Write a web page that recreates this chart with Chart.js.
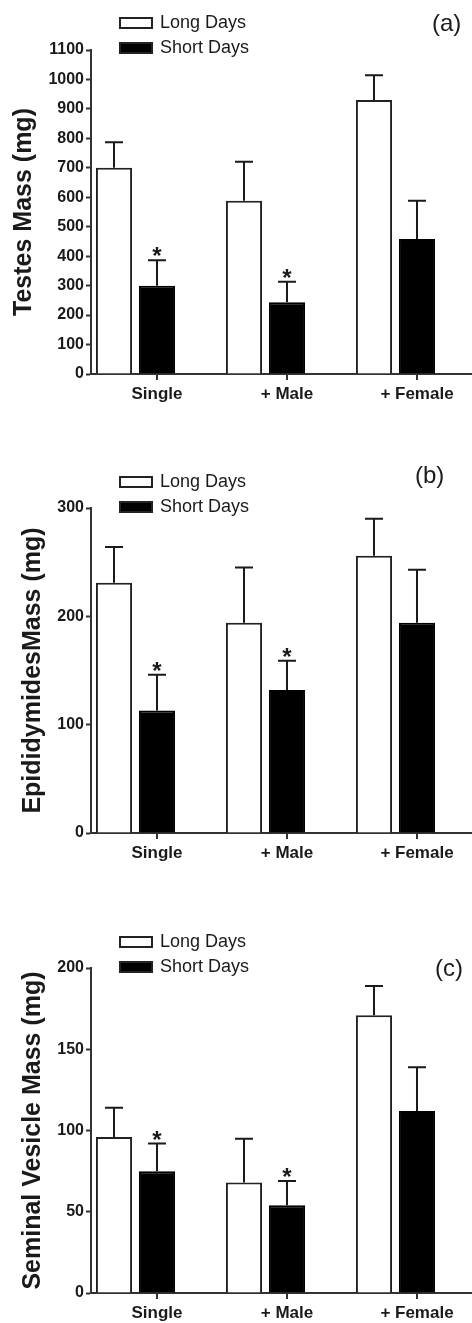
<!DOCTYPE html>
<html>
<head>
<meta charset="utf-8">
<script src="https://cdn.jsdelivr.net/npm/chart.js@4.4.1/dist/chart.umd.min.js"></script>
<style>
  html, body { margin: 0; padding: 0; background: #fff; }
  body {
    width: 472px;
    height: 1323px;
    position: relative;
    overflow: hidden;
    font-family: "Liberation Sans", Arial, sans-serif;
    color: #1a1a1a;
  }
  .panel { position: absolute; left: 0; }
  .legend { position: absolute; left: 119px; font-size: 18px; }
  .legend div { display: flex; align-items: center; height: 25px; }
  .swatch { width: 30px; height: 8px; border: 2px solid #222; margin-right: 7px; }
  .swatch.long { background: #fff; }
  .swatch.short { background: #000; }
  .letter { position: absolute; font-size: 24px; line-height: 28px; }
</style>
</head>
<body>

<canvas class="panel" id="testes" width="472" height="440" style="top:0"></canvas>
<canvas class="panel" id="epididymides" width="472" height="440" style="top:440px"></canvas>
<canvas class="panel" id="vesicle" width="472" height="443" style="top:880px"></canvas>

<div class="legend" style="top:10px">
  <div><span class="swatch long"></span>Long Days</div>
  <div><span class="swatch short"></span>Short Days</div>
</div>
<div class="letter" style="left:432px; top:9px">(a)</div>

<div class="legend" style="top:469px">
  <div><span class="swatch long"></span>Long Days</div>
  <div><span class="swatch short"></span>Short Days</div>
</div>
<div class="letter" style="left:415px; top:461px">(b)</div>

<div class="legend" style="top:929px">
  <div><span class="swatch long"></span>Long Days</div>
  <div><span class="swatch short"></span>Short Days</div>
</div>
<div class="letter" style="left:435px; top:954px">(c)</div>

<script>
const groups = ["Single", "+ Male", "+ Female"];

const testesLong = [700, 588, 930];
const testesLongErr = [87, 133, 84];
const testesShort = [300, 244, 458];
const testesShortErr = [86, 69, 130];

const epiLong = [231, 194, 256];
const epiLongErr = [33, 51, 34];
const epiShort = [113, 132, 194];
const epiShortErr = [33, 27, 49];

const vesicleLong = [96, 68, 171];
const vesicleLongErr = [18, 27, 18];
const vesicleShort = [75, 54, 112];
const vesicleShortErr = [17, 15, 27];

// significance markers on the short-day bars
const shortSig = [true, true, false];

const FONT = "'Liberation Sans', Arial, sans-serif";
const INK = "#1a1a1a";

// error bars, asterisks and the group ticks/labels (ticks sit under the short-day bar)
const errorBars = {
  id: "errorBars",
  afterDatasetsDraw(chart) {
    const { ctx, scales } = chart;
    const y = scales.y;
    ctx.save();
    ctx.strokeStyle = INK;
    ctx.fillStyle = INK;
    ctx.lineWidth = 2;
    chart.data.datasets.forEach((ds, di) => {
      const meta = chart.getDatasetMeta(di);
      meta.data.forEach((bar, i) => {
        const top = y.getPixelForValue(ds.data[i].y + ds.errors[i]);
        ctx.beginPath();
        ctx.moveTo(bar.x, bar.y);
        ctx.lineTo(bar.x, top);
        ctx.moveTo(bar.x - 9, top);
        ctx.lineTo(bar.x + 9, top);
        ctx.stroke();
        if (ds.stars && ds.stars[i]) {
          ctx.font = "bold 24px " + FONT;
          ctx.textAlign = "center";
          ctx.textBaseline = "alphabetic";
          ctx.fillText("*", bar.x, top + 4);
        }
      });
    });

    const base = chart.chartArea.bottom;
    ctx.strokeStyle = "#333";
    ctx.font = "bold 17px " + FONT;
    ctx.textAlign = "center";
    ctx.textBaseline = "middle";
    chart.getDatasetMeta(1).data.forEach((bar, i) => {
      ctx.beginPath();
      ctx.moveTo(bar.x, base);
      ctx.lineTo(bar.x, base + 6);
      ctx.stroke();
      ctx.fillText(groups[i], bar.x, base + 20);
    });
    ctx.restore();
  },
};

function makePanel(id, title, longVals, longErr, shortVals, shortErr, yMax, step, pad, titlePad) {
  const pts = (vals) => vals.map((v, i) => ({ x: i, y: v }));
  return new Chart(document.getElementById(id), {
    type: "bar",
    data: {
      datasets: [
        {
          label: "Long Days",
          data: pts(longVals),
          errors: longErr,
          backgroundColor: "#ffffff",
          borderColor: "#222",
          borderWidth: 2,
          categoryPercentage: 0.6615,
          barPercentage: 0.84,
        },
        {
          label: "Short Days",
          data: pts(shortVals),
          errors: shortErr,
          stars: shortSig,
          backgroundColor: "#000000",
          borderColor: "#000",
          borderWidth: 2,
          categoryPercentage: 0.6615,
          barPercentage: 0.84,
        },
      ],
    },
    options: {
      responsive: false,
      animation: false,
      layout: { padding: { top: pad.top, bottom: pad.bottom, left: 0, right: 0 } },
      plugins: {
        legend: { display: false },
        tooltip: { enabled: false },
      },
      scales: {
        x: {
          type: "linear",
          min: -0.3423,
          max: 2.5885,
          offset: false,
          ticks: { display: false, stepSize: 1, includeBounds: false },
          afterBuildTicks(scale) {
            scale.ticks = groups.map((_, i) => ({ value: i }));
          },
          grid: { display: false, drawTicks: false },
          border: { display: true, color: "#333", width: 2 },
        },
        y: {
          min: 0,
          max: yMax,
          ticks: {
            stepSize: step,
            color: INK,
            padding: 2,
            font: { family: FONT, weight: "bold", size: 16 },
            callback: (v) => String(v),
          },
          grid: { drawOnChartArea: false, drawTicks: true, tickLength: 5, tickWidth: 2, tickColor: "#333" },
          border: { display: true, color: "#333", width: 2 },
          title: {
            display: true,
            text: title,
            color: INK,
            padding: { top: titlePad, bottom: 0 },
            font: { family: FONT, weight: "bold", size: 25 },
          },
          afterFit(scale) {
            scale.width = 91;
          },
        },
      },
    },
    plugins: [errorBars],
  });
}

makePanel("testes", "Testes Mass (mg)", testesLong, testesLongErr, testesShort, testesShortErr,
  1100, 100, { top: 50, bottom: 66 }, 9);
makePanel("epididymides", "EpididymidesMass (mg)", epiLong, epiLongErr, epiShort, epiShortErr,
  300, 100, { top: 68, bottom: 47 }, 18);
makePanel("vesicle", "Seminal Vesicle Mass (mg)", vesicleLong, vesicleLongErr, vesicleShort, vesicleShortErr,
  200, 50, { top: 88, bottom: 30 }, 18);
</script>
</body>
</html>
